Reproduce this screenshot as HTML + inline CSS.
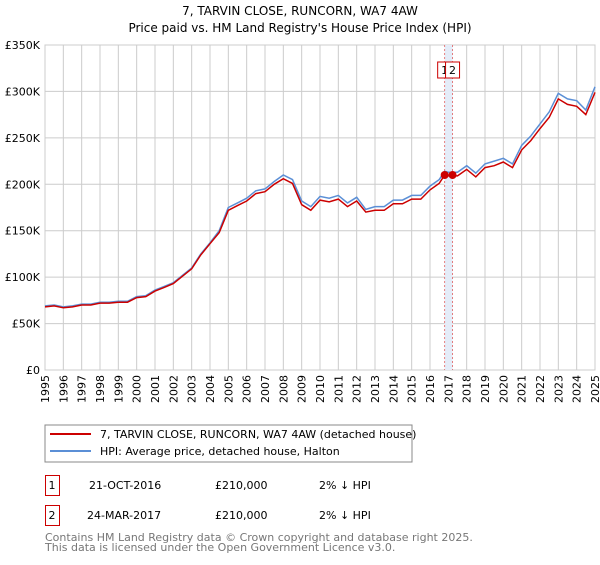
<!DOCTYPE html>
<html><head><meta charset="utf-8"><style>
body{margin:0;background:#fff;font-family:"Liberation Sans","DejaVu Sans",sans-serif;}
svg text{font-family:"DejaVu Sans","Liberation Sans",sans-serif;}
</style></head><body>
<svg id="c" width="600" height="560" xmlns="http://www.w3.org/2000/svg">
<text x="300" y="15" text-anchor="middle" font-size="12">7, TARVIN CLOSE, RUNCORN, WA7 4AW</text>
<text x="300" y="32" text-anchor="middle" font-size="12">Price paid vs. HM Land Registry's House Price Index (HPI)</text>
<g id="grid"></g><g id="series"></g><g id="axes"></g>
<g>
<rect x="45" y="425" width="367" height="37" fill="#fff" stroke="#888"/>
<line x1="50" y1="434" x2="91" y2="434" stroke="#cc0000" stroke-width="2"/>
<text x="100" y="438" font-size="11">7, TARVIN CLOSE, RUNCORN, WA7 4AW (detached house)</text>
<line x1="50" y1="451" x2="91" y2="451" stroke="#5b8fd6" stroke-width="2"/>
<text x="100" y="455" font-size="11">HPI: Average price, detached house, Halton</text>
</g>
<g font-size="11">
<rect x="45.5" y="475.5" width="14" height="20" fill="none" stroke="#cc0000"/>
<text x="52" y="489" text-anchor="middle">1</text>
<text x="89" y="489">21-OCT-2016</text>
<text x="215" y="489">£210,000</text>
<text x="319" y="489">2% ↓ HPI</text>
<rect x="45.5" y="505.5" width="14" height="20" fill="none" stroke="#cc0000"/>
<text x="52" y="519" text-anchor="middle">2</text>
<text x="87" y="519">24-MAR-2017</text>
<text x="215" y="519">£210,000</text>
<text x="319" y="519">2% ↓ HPI</text>
</g>
<text x="45" y="541" font-size="11" fill="#777">Contains HM Land Registry data © Crown copyright and database right 2025.</text>
<text x="45" y="551" font-size="11" fill="#777">This data is licensed under the Open Government Licence v3.0.</text>
</svg>
<script>
const years=[1995,1995.5,1996,1996.5,1997,1997.5,1998,1998.5,1999,1999.5,2000,2000.5,2001,2001.5,2002,2002.5,2003,2003.5,2004,2004.5,2005,2005.5,2006,2006.5,2007,2007.5,2008,2008.5,2009,2009.5,2010,2010.5,2011,2011.5,2012,2012.5,2013,2013.5,2014,2014.5,2015,2015.5,2016,2016.5,2016.8,2017,2017.5,2018,2018.5,2019,2019.5,2020,2020.5,2021,2021.5,2022,2022.5,2023,2023.5,2024,2024.5,2025];
const hpiValues=[69,70,68,69,71,71,73,73,74,74,79,80,86,90,94,102,110,125,137,150,175,180,185,193,195,203,210,205,182,176,187,185,188,180,186,173,176,176,183,183,188,188,198,205,214,213,213,220,212,222,225,228,222,242,252,265,278,298,292,290,280,305];
const priceValues=[68,69,67,68,70,70,72,72,73,73,78,79,85,89,93,101,109,124,136,148,172,177,182,190,192,200,206,201,178,172,183,181,184,176,182,170,172,172,179,179,184,184,194,201,210,209,209,216,208,218,220,224,218,237,247,260,272,292,286,284,275,299];
const saleDates=[2016.8,2017.23];
const salePrices=[210,210];
const saleLabels=["1","2"];
const yTicks=[0,50,100,150,200,250,300,350];
const yTickLabels=["£0","£50K","£100K","£150K","£200K","£250K","£300K","£350K"];
const xTicks=[1995,1996,1997,1998,1999,2000,2001,2002,2003,2004,2005,2006,2007,2008,2009,2010,2011,2012,2013,2014,2015,2016,2017,2018,2019,2020,2021,2022,2023,2024,2025];

const X0=45,X1=595,Y0=370,Y1=45;
const xs=v=>X0+(v-1995)/30*(X1-X0);
const ys=v=>Y0-v/350*(Y0-Y1);
const NS="http://www.w3.org/2000/svg";
function mk(tag,parent,attrs){const e=document.createElementNS(NS,tag);for(const k in attrs)e.setAttribute(k,attrs[k]);parent.appendChild(e);return e;}
const grid=document.getElementById('grid'),ser=document.getElementById('series'),ax=document.getElementById('axes');

yTicks.forEach((t,i)=>{
  const l=mk('line',grid,{x1:X0,x2:X1,y1:ys(t),y2:ys(t),stroke:'#ccc'});
  
  
  const tx=mk('text',ax,{x:X0-5,y:ys(t)+4,'text-anchor':'end','font-size':'11'});
  tx.textContent=yTickLabels[i];
  
  
});
xTicks.forEach(t=>{
  const l=mk('line',grid,{x1:xs(t),x2:xs(t),y1:Y1,y2:Y0,stroke:'#ccc'});
  
  
  const tx=mk('text',ax,{x:0,y:0,'text-anchor':'end','font-size':'11',transform:`translate(${xs(t)+4},${Y0+5}) rotate(-90)`});
  tx.textContent=String(t);
  
  
});
const frame=mk('rect',grid,{x:X0,y:Y1,width:X1-X0,height:Y0-Y1,fill:'none',stroke:'#ccc'});



const band=mk('rect',ser,{x:xs(saleDates[0]),y:Y1,width:xs(saleDates[1])-xs(saleDates[0]),height:Y0-Y1,fill:'#e4ecf8'});


saleDates.forEach((d,i)=>{
  const l=mk('line',ser,{x1:xs(d),x2:xs(d),y1:Y1,y2:Y0,stroke:'#e06060','stroke-dasharray':'2,2','stroke-width':'0.8'});
  
  
});
const pts=a=>years.map((y,i)=>xs(y).toFixed(1)+','+ys(a[i]).toFixed(1)).join(' ');
const hl=mk('polyline',ser,{points:pts(hpiValues),fill:'none',stroke:'#5b8fd6','stroke-width':'1.5'});


const pl=mk('polyline',ser,{points:pts(priceValues),fill:'none',stroke:'#cc0000','stroke-width':'1.5'});


saleDates.forEach((d,i)=>{
  const c=mk('circle',ser,{cx:xs(d),cy:ys(salePrices[i]),r:4,fill:'#cc0000'});
  
  
  const bx=i===0?xs(d)-7:xs(d)-7;
  const r=mk('rect',ser,{x:bx,y:62,width:14,height:16,fill:'#fff',stroke:'#cc0000'});
  
  
  const t=mk('text',ser,{x:bx+7,y:74,'text-anchor':'middle','font-size':'11'});
  t.textContent=saleLabels[i];
  
  
});
</script>
</body></html>
